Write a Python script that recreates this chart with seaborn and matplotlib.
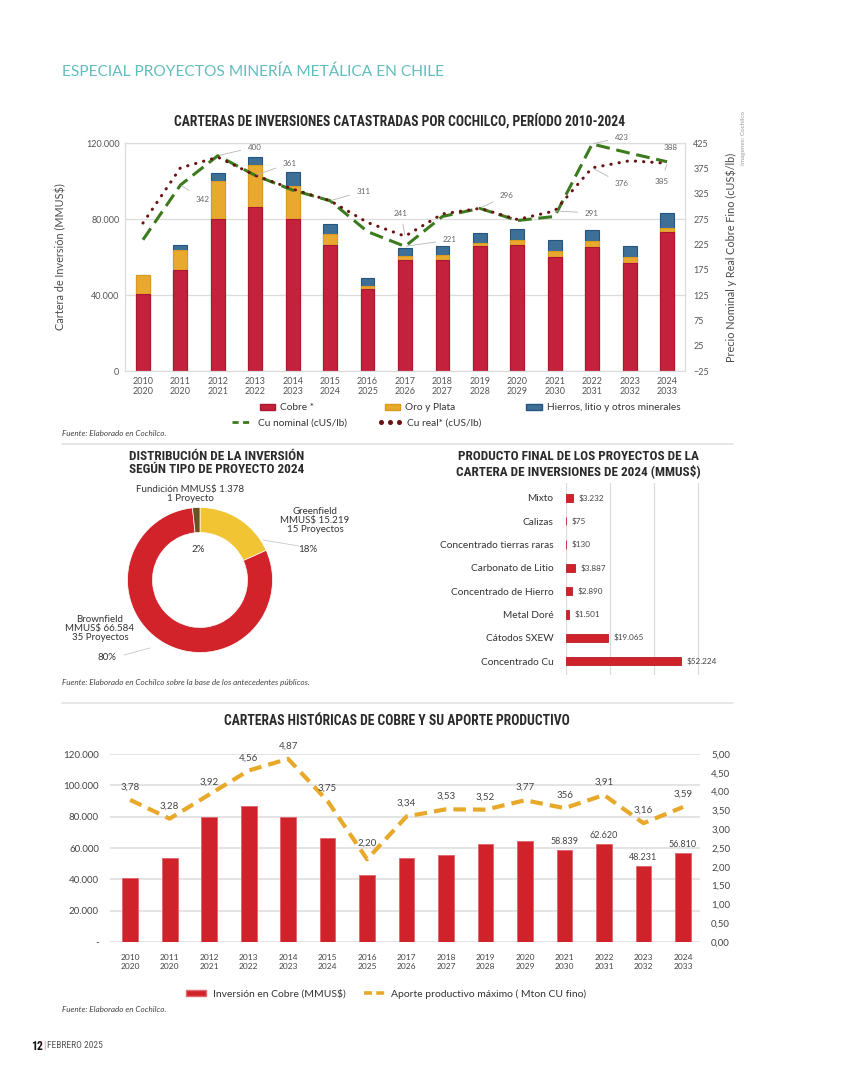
import numpy as np
import pandas as pd
import matplotlib
matplotlib.use("Agg")
import matplotlib.pyplot as plt
import seaborn as sns
from matplotlib.patches import Patch
from matplotlib.lines import Line2D
from matplotlib import font_manager

# ---------------- DATA ----------------
periodos = ["2010\n2020", "2011\n2020", "2012\n2021", "2013\n2022", "2014\n2023",
            "2015\n2024", "2016\n2025", "2017\n2026", "2018\n2027", "2019\n2028",
            "2020\n2029", "2021\n2030", "2022\n2031", "2023\n2032", "2024\n2033"]
cobre = [40600, 53400, 80000, 86300, 80000, 66500, 43300, 58500, 58500, 65900,
         66200, 59900, 65300, 57100, 73400]
oro_plata = [10000, 10200, 20200, 22300, 17500, 5800, 1700, 1900, 2600, 1700,
             2800, 3100, 3000, 2800, 2100]
hierro_otros = [0, 2900, 3800, 4000, 7500, 5100, 4000, 4400, 4600, 5200,
                5600, 6000, 5900, 6100, 7800]
cu_nominal = [234, 342, 400, 361, 332, 311, 250, 221, 280, 296, 272, 280, 423, 405, 388]
cu_real = [267, 376, 397, 361, 334, 311, 268, 241, 285, 296, 274, 291, 376, 390, 385]

tipos = ["Greenfield", "Brownfield", "Fundición"]
inversion_tipo = [15219, 66584, 1378]
proyectos_tipo = [15, 35, 1]
pct_tipo = ["18%", "80%", "2%"]

productos = ["Mixto", "Calizas", "Concentrado tierras raras", "Carbonato de Litio",
             "Concentrado de Hierro", "Metal Doré", "Cátodos SXEW", "Concentrado Cu"]
montos = [3232, 75, 130, 3887, 2890, 1501, 19065, 52224]

inversion_cobre = [40600, 53500, 79600, 86600, 79600, 66200, 42500, 53900, 55400,
                   62600, 64500, 58839, 62620, 48231, 56810]
aporte = [3.78, 3.28, 3.92, 4.56, 4.87, 3.75, 2.20, 3.34, 3.53, 3.52, 3.77, 3.56,
          3.91, 3.16, 3.59]
aporte_labels = ["3,78", "3,28", "3,92", "4,56", "4,87", "3,75", "2,20", "3,34", "3,53",
                 "3,52", "3,77", "356", "3,91", "3,16", "3,59"]

# ---------------- STYLE ----------------
sns.set_theme(style="white")
avail = {f.name for f in font_manager.fontManager.ttflist}
BODY = ["Lato", "DejaVu Sans"] if "Lato" in avail else ["DejaVu Sans"]
if "Liberation Sans Narrow" in avail:
    TITLE = ["Liberation Sans Narrow", "DejaVu Sans"]
    TSIZE = 9.6
elif "Roboto Condensed" in avail:
    TITLE = ["Roboto Condensed", "DejaVu Sans"]
    TSIZE = 9.6
else:
    TITLE = ["Roboto", "DejaVu Sans"]
    TSIZE = 8.0
plt.rcParams["font.family"] = BODY

RED = "#c4213c"
RED_E = "#a8172f"
YEL = "#e9a92f"
BLUE = "#3d6f97"
BLUE_E = "#22557f"
GREEN = "#3c7a1e"
MAROON = "#6b1212"
RED2 = "#d0222b"
ORANGE = "#e8a92a"
GRID = "#dcdcdc"
TXT = "#4a4a4a"

W, H = 850, 1083
fig = plt.figure(figsize=(W / 100, H / 100), dpi=100)
fig.patch.set_facecolor("white")


def fx(x):
    return x / W


def fy(y):
    return 1 - y / H


def axes_px(x0, y0, x1, y1):
    return fig.add_axes([fx(x0), fy(y1), (x1 - x0) / W, (y1 - y0) / H])


def dots(v):
    return f"{v:,}".replace(",", ".")


def hline(x0, x1, y, color="#e3e3e3", lw=1.2):
    fig.add_artist(Line2D([fx(x0), fx(x1)], [fy(y), fy(y)], transform=fig.transFigure,
                          color=color, lw=lw))


# header
fig.text(fx(62), fy(72), "ESPECIAL PROYECTOS MINERÍA METÁLICA EN CHILE", color="#62bdbf",
         fontsize=11.2, va="center", ha="left", fontweight="normal")
fig.text(fx(743), fy(138), "Imagenes: Cochilco", rotation=90, fontsize=4.6, color="#9a9a9a",
         ha="center", va="center")

# ---------------- TOP CHART ----------------
fig.text(fx(400), fy(121), "CARTERAS DE INVERSIONES CATASTRADAS POR COCHILCO, PERÍODO 2010-2024",
         family=TITLE, fontweight="bold", fontsize=TSIZE + 0.2, color="#2a2a2a", ha="center", va="center")

ax1 = axes_px(125, 143, 685, 371)
df_top = pd.DataFrame({"periodo": periodos, "cobre": cobre, "oro": oro_plata, "hierro": hierro_otros})
df_top["cobre_oro"] = df_top["cobre"] + df_top["oro"]
df_top["total"] = df_top["cobre_oro"] + df_top["hierro"]
for col, c, ec in [("total", BLUE, BLUE_E), ("cobre_oro", YEL, "#d99a20"), ("cobre", RED, RED_E)]:
    sns.barplot(data=df_top, x="periodo", y=col, color=c, saturation=1, width=0.37,
                edgecolor=ec, linewidth=0.8, ax=ax1, zorder=2)
ax1.set_xlim(-0.48, 14.48)
ax1.set_ylim(0, 120000)
ax1.set_yticks([0, 40000, 80000, 120000])
ax1.set_yticklabels([dots(v) for v in [0, 40000, 80000, 120000]])
ax1.yaxis.grid(True, color=GRID, lw=0.9, zorder=0)
ax1.set_axisbelow(True)
ax1.set_xlabel("")
ax1.set_ylabel("Cartera de Inversión (MMUS$)", fontsize=7.8, color=TXT, labelpad=14)
ax1.tick_params(axis="both", labelsize=6.5, colors="#555555", length=0, pad=4)
for s in ax1.spines.values():
    s.set_color(GRID)
    s.set_linewidth(0.9)

ax2 = ax1.twinx()
xs = np.arange(len(periodos))
sns.lineplot(x=xs, y=cu_nominal, ax=ax2, color=GREEN, lw=2.2, linestyle=(0, (4.5, 2.2)))
sns.lineplot(x=xs, y=cu_real, ax=ax2, color=MAROON, lw=2.2, linestyle=(0, (0.1, 2.6)),
             dash_capstyle="round")
ax2.set_ylim(-25, 425)
ax2.set_yticks(np.arange(-25, 426, 50))
ax2.set_xlim(-0.48, 14.48)
ax2.tick_params(axis="y", labelsize=6.5, colors="#555555", length=0, pad=6)
ax2.set_ylabel("Precio Nominal y Real Cobre Fino (cUS$/lb)", fontsize=7.8, color=TXT, labelpad=12)
for s in ax2.spines.values():
    s.set_visible(False)

ann = [(1, cu_nominal, 203, 199), (2, cu_nominal, 255, 147), (3, cu_nominal, 290, 163),
       (5, cu_nominal, 364, 191), (7, cu_real, 401, 213), (7, cu_nominal, 450, 240),
       (9, cu_nominal, 507, 195), (11, cu_real, 592, 213), (12, cu_nominal, 622, 137),
       (12, cu_real, 622, 184), (14, cu_real, 662, 181)]
for i, ser, tx, ty in ann:
    ax2.annotate(str(ser[i]), xy=(i, ser[i]), xycoords="data",
                 xytext=(fx(tx), fy(ty)), textcoords="figure fraction",
                 fontsize=5.8, color="#666666", ha="center", va="center",
                 arrowprops=dict(arrowstyle="-", color="#b5b5b5", lw=0.6, shrinkA=3, shrinkB=1))
ax2.annotate(str(cu_nominal[14]), xy=(fx(671), fy(148)), xycoords="figure fraction",
             fontsize=5.8, color="#666666", ha="center", va="center")

fig.legend(handles=[Patch(facecolor=RED, edgecolor=RED_E, label="Cobre *"),
                    Patch(facecolor=YEL, edgecolor="#d99a20", label="Oro y Plata"),
                    Patch(facecolor=BLUE, edgecolor=BLUE_E, label="Hierros, litio y otros minerales")],
           loc="center", bbox_to_anchor=(fx(470), fy(408)), ncol=3, frameon=False,
           fontsize=7.3, handlelength=1.5, handleheight=0.6, handletextpad=0.5,
           columnspacing=7.0, labelcolor="#333333")
fig.legend(handles=[Line2D([], [], color=GREEN, lw=2.0, linestyle=(0, (2.2, 1.6)),
                           label="Cu nominal (cUS/lb)"),
                    Line2D([], [], color=MAROON, lw=0, marker="o", markersize=2.6,
                           label="Cu real* (cUS/lb)")],
           loc="center", bbox_to_anchor=(fx(355), fy(423)), ncol=2, frameon=False,
           fontsize=7.3, handlelength=2.4, handletextpad=0.5, columnspacing=3.0,
           numpoints=3, labelcolor="#333333")
fig.text(fx(62), fy(433), "Fuente: Elaborado en Cochilco.", fontsize=5.9, style="italic",
         color="#444444", va="center")
hline(62, 733, 444)

# ---------------- DONUT ----------------
fig.text(fx(217), fy(463), "DISTRIBUCIÓN DE LA INVERSIÓN\nSEGÚN TIPO DE PROYECTO 2024",
         family=TITLE, fontweight="bold", fontsize=TSIZE - 0.1, color="#2a2a2a",
         ha="center", va="center", linespacing=1.05)
ax6 = axes_px(127.5, 507.5, 272.5, 652.5)
ax6.pie(inversion_tipo, colors=["#f1c433", "#d2232a", "#6b5222"], startangle=90,
        counterclock=False, radius=1.0,
        wedgeprops=dict(width=0.345, edgecolor="white", linewidth=0.5))
ax6.set_xlim(-1, 1)
ax6.set_ylim(-1, 1)
ax6.set_aspect("equal")
ax6.axis("off")

DFS = 7.0
fig.text(fx(190), fy(494), f"{tipos[2]} MMUS$ {dots(inversion_tipo[2])}\n{proyectos_tipo[2]} Proyecto",
         fontsize=DFS, color="#333333", ha="center", va="center", linespacing=1.0)
fig.text(fx(315), fy(520), f"{tipos[0]}\nMMUS$ {dots(inversion_tipo[0])}\n{proyectos_tipo[0]} Proyectos",
         fontsize=DFS, color="#333333", ha="center", va="center", linespacing=1.0)
fig.text(fx(308), fy(549), pct_tipo[0], fontsize=DFS, color="#333333", ha="center", va="center")
fig.text(fx(198), fy(549), pct_tipo[2], fontsize=DFS, color="#333333", ha="center", va="center")
fig.text(fx(100), fy(628), f"{tipos[1]}\nMMUS$ {dots(inversion_tipo[1])}\n{proyectos_tipo[1]} Proyectos",
         fontsize=DFS, color="#333333", ha="center", va="center", linespacing=1.0)
fig.text(fx(107), fy(657), pct_tipo[1], fontsize=DFS, color="#333333", ha="center", va="center")
for (x0, y0, x1, y1) in [(263, 540, 299, 546), (124, 655, 150, 648)]:
    fig.add_artist(Line2D([fx(x0), fx(x1)], [fy(y0), fy(y1)], transform=fig.transFigure,
                          color="#c8c8c8", lw=0.6))

# ---------------- HBAR ----------------
fig.text(fx(578), fy(464), "PRODUCTO FINAL DE LOS PROYECTOS DE LA\nCARTERA DE INVERSIONES DE 2024 (MMUS$)",
         family=TITLE, fontweight="bold", fontsize=TSIZE - 0.1, color="#2a2a2a",
         ha="center", va="center", linespacing=1.05)
ax5 = axes_px(566, 483, 702, 675)
df_p = pd.DataFrame({"producto": productos, "monto": montos})
sns.barplot(data=df_p, y="producto", x="monto", orient="h", color=RED2, saturation=1,
            width=0.36, edgecolor="#b71c24", linewidth=0.6, ax=ax5, zorder=2)
ax5.set_xlim(0, 61700)
ax5.set_ylim(7.6, -0.64)
ax5.set_xticks([0, 20000, 40000, 60000])
ax5.set_xticklabels([])
ax5.xaxis.grid(True, color=GRID, lw=0.9, zorder=0)
ax5.set_axisbelow(True)
ax5.set_xlabel("")
ax5.set_ylabel("")
ax5.tick_params(axis="y", labelsize=7.3, colors="#333333", length=0, pad=9)
ax5.tick_params(axis="x", length=0)
for s in ax5.spines.values():
    s.set_visible(False)
for i, v in enumerate(montos):
    ax5.annotate(f"${dots(v)}", xy=(v, i), xytext=(4, 0), textcoords="offset points",
                 fontsize=5.9, color="#444444", va="center", ha="left")
fig.text(fx(62), fy(682), "Fuente: Elaborado en Cochilco sobre la base de los antecedentes públicos.",
         fontsize=5.9, style="italic", color="#444444", va="center")
hline(62, 733, 703)

# ---------------- BOTTOM CHART ----------------
fig.text(fx(397), fy(721), "CARTERAS HISTÓRICAS DE COBRE Y SU APORTE PRODUCTIVO",
         family=TITLE, fontweight="bold", fontsize=TSIZE + 0.2, color="#2a2a2a", ha="center", va="center")
ax3 = axes_px(110, 754, 700, 942)
df_b = pd.DataFrame({"periodo": periodos, "inversion": inversion_cobre})
sns.barplot(data=df_b, x="periodo", y="inversion", color=RED2, saturation=1, width=0.4,
            edgecolor="#e06a70", linewidth=0.7, ax=ax3, zorder=2)
ax3.set_xlim(-0.51, 14.43)
ax3.set_ylim(0, 120000)
yt = np.arange(0, 120001, 20000)
ax3.set_yticks(yt)
ax3.set_yticklabels(["-"] + [dots(int(v)) for v in yt[1:]])
ax3.yaxis.grid(True, color=GRID, lw=1.1, zorder=0)
ax3.set_axisbelow(True)
ax3.set_xlabel("")
ax3.set_ylabel("")
ax3.tick_params(axis="y", labelsize=7.0, colors="#444444", length=0, pad=8)
ax3.tick_params(axis="x", labelsize=6.0, colors="#444444", length=0, pad=9)
for s in ax3.spines.values():
    s.set_visible(False)
for i in range(11, 15):
    ax3.annotate(dots(inversion_cobre[i]), xy=(i, inversion_cobre[i]), xytext=(0, 3),
                 textcoords="offset points", fontsize=6.5, color="#444444",
                 ha="center", va="bottom")

ax4 = ax3.twinx()
sns.lineplot(x=np.arange(len(periodos)), y=aporte, ax=ax4, color=ORANGE, lw=3.0,
             linestyle=(0, (3.0, 1.7)))
ax4.set_ylim(0, 5)
ax4.set_xlim(-0.51, 14.43)
r_t = np.arange(0, 5.01, 0.5)
ax4.set_yticks(r_t)
ax4.set_yticklabels([f"{v:.2f}".replace(".", ",") for v in r_t])
ax4.tick_params(axis="y", labelsize=7.0, colors="#444444", length=0, pad=8)
ax4.set_ylabel("")
for s in ax4.spines.values():
    s.set_visible(False)
for i, (v, lab) in enumerate(zip(aporte, aporte_labels)):
    ax4.annotate(lab, xy=(i, v), xytext=(0, 8 if i == 6 else 6), textcoords="offset points",
                 fontsize=7.0, color="#444444", ha="center", va="bottom")

fig.legend(handles=[Patch(facecolor=RED2, edgecolor="#e06a70", label="Inversión en Cobre (MMUS$)"),
                    Line2D([], [], color=ORANGE, lw=2.6, linestyle=(0, (2.2, 1.2)),
                           label="Aporte productivo máximo ( Mton CU fino)")],
           loc="center", bbox_to_anchor=(fx(386), fy(994)), ncol=2, frameon=False,
           fontsize=7.5, handlelength=2.0, handleheight=0.6, handletextpad=0.6,
           columnspacing=1.8, labelcolor="#333333")
fig.text(fx(62), fy(1009), "Fuente: Elaborado en Cochilco.", fontsize=5.9, style="italic",
         color="#444444", va="center")

# footer
fig.text(fx(31), fy(1046), "12", fontsize=8.5, fontweight="bold", color="#111111", va="center",
         family=TITLE)
fig.text(fx(43), fy(1046), "|", fontsize=7, color="#e07080", va="center")
fig.text(fx(47), fy(1046), "FEBRERO 2025", fontsize=6.8, color="#555555", va="center", family=TITLE)

fig.savefig("out.png", dpi=100, facecolor="white")
